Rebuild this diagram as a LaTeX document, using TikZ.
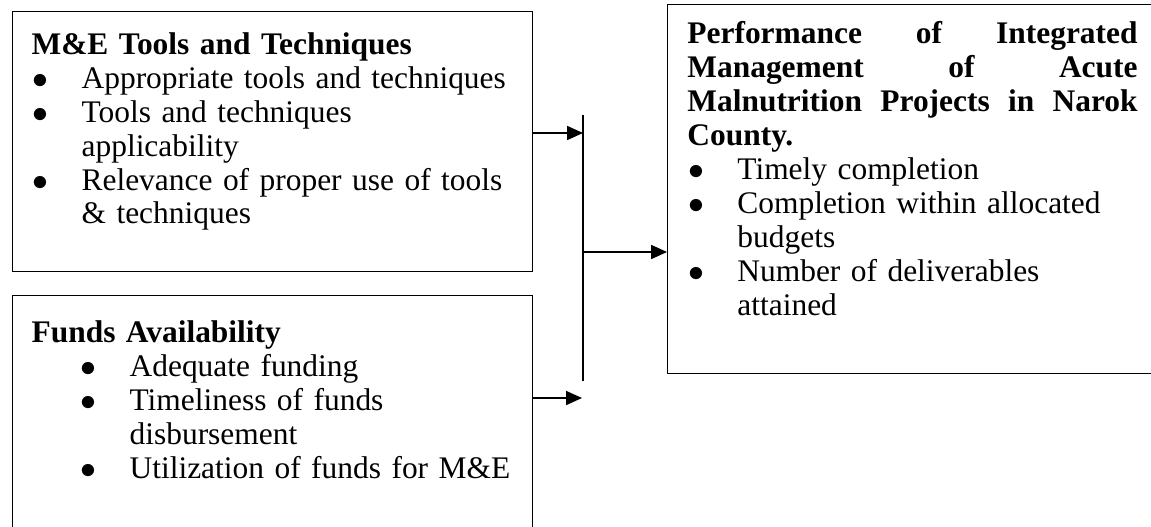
\documentclass[tikz,border=0pt]{standalone}
\usepackage{fontspec}
\setmainfont{Liberation Serif}
\usetikzlibrary{positioning, arrows.meta}
\tikzset{
  factorbox/.style={draw, line width=0.5pt, anchor=north west, inner sep=0pt},
  factortext/.style={anchor=north west, inner sep=0pt, align=left,
    font=\fontsize{11.85}{12.8}\selectfont},
  arrowline/.style={draw, line width=0.5pt, -{Triangle[length=6pt, width=5.3pt]}},
}
\newlength{\perfwidth}
\setlength{\perfwidth}{169.7pt}
\newcommand{\bitem}[2][0pt]{\hspace*{#1}\makebox[18.85pt][l]{\hspace{0.3pt}$\bullet$}#2}
\newcommand{\bcont}[2][0pt]{\hspace*{\dimexpr#1+18.85pt\relax}#2}
\newcommand{\firstline}[1][15.5pt]{\rule{0pt}{#1}}
\newcommand{\spread}[1]{\leavevmode\hbox to \perfwidth{\bfseries #1}}

\begin{document}
\begin{tikzpicture}[x=0.377pt, y=-0.377pt]
  \useasboundingbox (0,0) rectangle (1151,526);
  \clip (0,0) rectangle (1151,526);

  % the three boxes
  \node[factorbox, minimum width=196pt, minimum height=98pt] (tools) at (12,11) {};
  \node[factorbox, minimum width=196pt, minimum height=113pt] (funds) at (12,295) {};
  \node[factorbox, minimum width=230pt, minimum height=139.1pt] (perf) at (667,4) {};

  \node[factortext, text width=190pt, below right=0.6pt and 7.2pt of tools.north west] (toolstext) {%
    \firstline\textbf{M\&E Tools and Techniques}\\
    \bitem{Appropriate tools and techniques}\\
    \bitem{Tools and techniques}\\
    \bcont{applicability}\\
    \bitem{Relevance of proper use of tools}\\
    \bcont{\& techniques}};

  \node[factortext, text width=190pt, below right=0pt and 7.2pt of funds.north west] (fundstext) {%
    \firstline[17.6pt]\textbf{Funds Availability}\\
    \bitem[18.1pt]{Adequate funding}\\
    \bitem[18.1pt]{Timeliness of funds}\\
    \bcont[18.1pt]{disbursement}\\
    \bitem[18.1pt]{Utilization of funds for M\&E}};

  \node[factortext, text width=\perfwidth, below right=0pt and 7.5pt of perf.north west] (perftext) {%
    \firstline[14.8pt]\spread{Performance\hfill of\hfill Integrated}\\
    \spread{Management\hfill of\hfill Acute}\\
    \spread{Malnutrition\hfill Projects\hfill in\hfill Narok}\\
    \textbf{County.}\\
    \bitem{Timely completion}\\
    \bitem{Completion within allocated}\\
    \bcont{budgets}\\
    \bitem{Number of deliverables}\\
    \bcont{attained}};

  % connectors
  \coordinate (bustop) at (583,115);
  \coordinate (busbot) at (583,381);
  \coordinate (toolsin) at (583,133);
  \coordinate (fundsin) at (582,398);
  \coordinate (perfin) at (583,252);
  \draw[line width=0.5pt] (bustop) -- (busbot);
  \path[arrowline] (tools.east |- toolsin) -- (toolsin);
  \path[arrowline] (funds.east |- fundsin) -- (fundsin);
  \path[arrowline] (perfin) -- (perfin -| perf.west);
\end{tikzpicture}
\end{document}
